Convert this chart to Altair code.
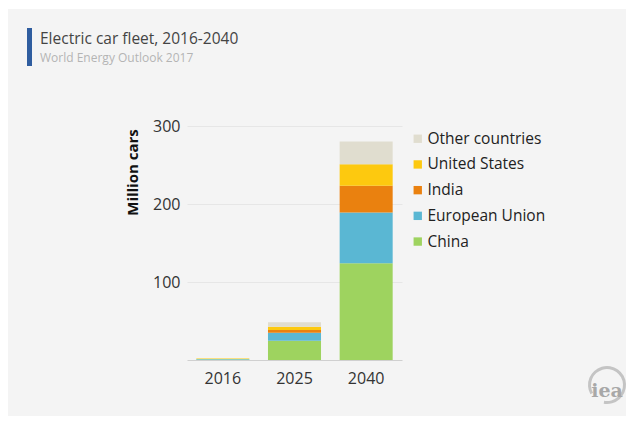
import altair as alt
import pandas as pd

years = ["2016", "2025", "2040"]
regions = ["China", "European Union", "India", "United States", "Other countries"]
china = [0.65, 24.8, 124.0]
eu = [0.6, 10.2, 65.0]
india = [0.05, 3.5, 34.5]
us = [0.55, 4.2, 27.5]
other = [0.2, 5.6, 29.0]
legend_order = ["Other countries", "United States", "India", "European Union", "China"]
colors = ["#e0ddcf", "#fdc90f", "#ea810f", "#5ab7d3", "#9ed35f"]

series = [china, eu, india, us, other]
rows = []
for r_i, (name, vals) in enumerate(zip(regions, series)):
    for y, v in zip(years, vals):
        rows.append({"year": y, "region": name, "value": v, "order": r_i})
df = pd.DataFrame(rows)

FONT = "Open Sans"
W, H = 215, 234
L, T = 187, 126

one = pd.DataFrame({"a": [0]})


def white_rect(x0, x1, y0, y1):
    return alt.Chart(one).mark_rect(color="white").encode(
        x=alt.value(x0 - L), x2=alt.value(x1 - L), y=alt.value(y0 - T), y2=alt.value(y1 - T)
    )


frame = [
    white_rect(0, 8, 0, 421),
    white_rect(0, 631, 0, 9),
    white_rect(626, 631, 0, 421),
    white_rect(0, 631, 416, 421),
]

bars = alt.Chart(df).mark_bar().encode(
    x=alt.X("year:N", sort=years,
            scale=alt.Scale(paddingInner=0.26, paddingOuter=0.13),
            axis=alt.Axis(title=None, labelAngle=0, labelFontSize=16, labelColor="#333",
                          labelFont=FONT, ticks=False, domainColor="#d0d0d0",
                          labelPadding=10, grid=False)),
    y=alt.Y("value:Q", stack="zero",
            scale=alt.Scale(domain=[0, 300], nice=False),
            axis=alt.Axis(values=[100, 200, 300], title="Million cars", titleFont=FONT,
                          titleFontSize=15, titleFontWeight="bold", titleColor="#111",
                          titlePadding=12, titleY=46, titleAlign="center",
                          labelFontSize=16, labelColor="#333",
                          labelFont=FONT, ticks=False, domain=False, labelPadding=7,
                          gridColor="#e6e6e6")),
    color=alt.Color("region:N",
                    scale=alt.Scale(domain=legend_order, range=colors),
                    legend=alt.Legend(title=None, orient="none", legendX=223, legendY=5,
                                      symbolType="square", symbolSize=70,
                                      symbolStrokeWidth=0, labelFontSize=15.5,
                                      labelFont=FONT, labelColor="#222",
                                      rowPadding=8.7, labelOffset=2)),
    order=alt.Order("order:Q", sort="ascending"),
)

accent = alt.Chart(one).mark_rect(color="#2f5d9f").encode(
    x=alt.value(27 - L), x2=alt.value(32 - L), y=alt.value(28 - T), y2=alt.value(66 - T)
)
title = alt.Chart(one).mark_text(text="Electric car fleet, 2016-2040", align="left",
                                 baseline="middle", fontSize=15.5, font=FONT,
                                 color="#444").encode(
    x=alt.value(40 - L), y=alt.value(39 - T))
subtitle = alt.Chart(one).mark_text(text="World Energy Outlook 2017", align="left",
                                    baseline="middle", fontSize=12, font=FONT,
                                    color="#b4b4b4").encode(
    x=alt.value(40 - L), y=alt.value(58 - T))

logo_arc = alt.Chart(one).mark_arc(color="#c4c4c4", radius=19, radius2=16,
                                   theta=4.2, theta2=9.6).encode(
    x=alt.value(607 - L), y=alt.value(385 - T))
logo_text = alt.Chart(one).mark_text(text="iea", font="DejaVu Serif", fontSize=19,
                                     fontWeight="bold", color="#a8a8a8",
                                     baseline="middle", align="center").encode(
    x=alt.value(607 - L), y=alt.value(391 - T))

chart = alt.layer(*frame, accent, title, subtitle, logo_arc, logo_text, bars).properties(
    width=W, height=H,
    autosize=alt.AutoSizeParams(type="none"),
    padding={"left": L, "top": T, "right": 631 - L - W, "bottom": 421 - T - H},
    background="#f4f4f4",
).configure_view(stroke=None)

chart.save("out.html", embed_options={"renderer": "svg", "actions": False})
